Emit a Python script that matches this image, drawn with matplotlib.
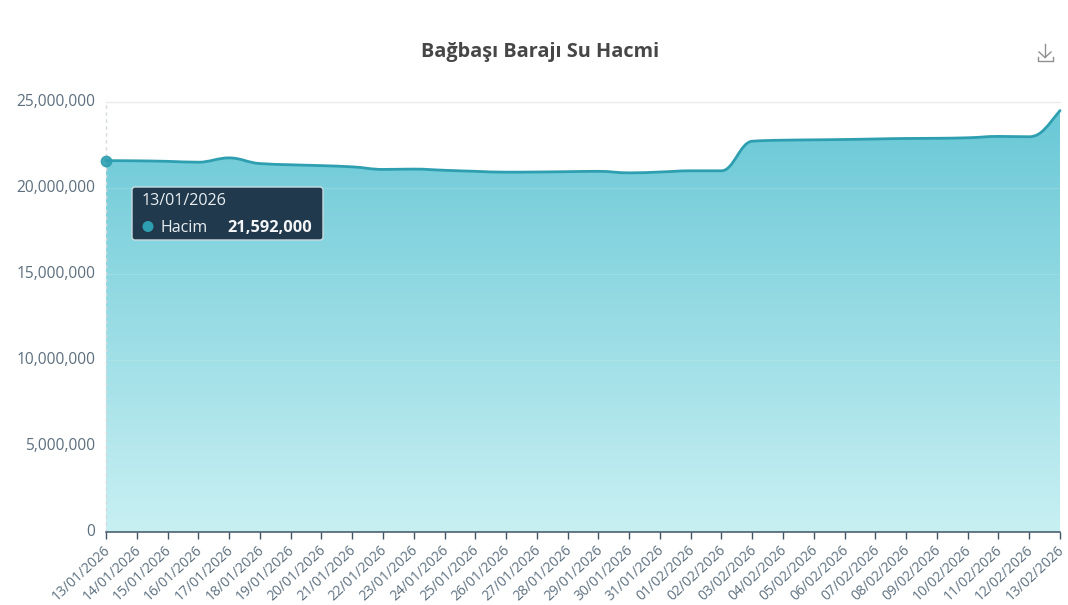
import numpy as np
import matplotlib
matplotlib.use("Agg")
import matplotlib.pyplot as plt
from matplotlib.path import Path
from matplotlib.patches import PathPatch, FancyBboxPatch, Circle
from matplotlib.lines import Line2D
from matplotlib.colors import LinearSegmentedColormap
from matplotlib.ticker import FuncFormatter
from matplotlib.transforms import ScaledTranslation

dates = ["13/01/2026","14/01/2026","15/01/2026","16/01/2026","17/01/2026","18/01/2026","19/01/2026","20/01/2026",
         "21/01/2026","22/01/2026","23/01/2026","24/01/2026","25/01/2026","26/01/2026","27/01/2026","28/01/2026",
         "29/01/2026","30/01/2026","31/01/2026","01/02/2026","02/02/2026","03/02/2026","04/02/2026","05/02/2026",
         "06/02/2026","07/02/2026","08/02/2026","09/02/2026","10/02/2026","11/02/2026","12/02/2026","13/02/2026"]
volumes = [21592000,21580000,21550000,21500000,21750000,21420000,21350000,21300000,
           21230000,21080000,21100000,21030000,20970000,20920000,20930000,20950000,
           20970000,20880000,20930000,21000000,21000000,22720000,22780000,22800000,
           22820000,22850000,22880000,22890000,22920000,23000000,22980000,24500000]
y_ticks = [0,5000000,10000000,15000000,20000000,25000000]
title = "Bağbaşı Barajı Su Hacmi"
series_name = "Hacim"

plt.rcParams['font.family'] = ['Open Sans','DejaVu Sans']
W,H = 1068,605
fig = plt.figure(figsize=(W/100,H/100),dpi=100,facecolor='white')
L,R,T,B = 106,1060,102,532
ax = fig.add_axes([L/W,1-B/H,(R-L)/W,(B-T)/H])
x = np.arange(len(volumes))
y = np.array(volumes,dtype=float)
ax.set_xlim(0,len(x)-1); ax.set_ylim(0,25000000)

# smooth curve through the data points (Bezier segments, flat tangent at local extrema)
def tangents(x,y):
    m = np.zeros_like(y)
    for i in range(1,len(y)-1):
        a,b = y[i]-y[i-1], y[i+1]-y[i]
        if a*b>0:
            m[i] = 2*a*b/(a+b)
    m[0] = (y[1]-y[0]); m[-1] = (y[-1]-y[-2])*1.4
    return m
m = tangents(x,y)
verts=[(x[0],y[0])]; codes=[Path.MOVETO]
for i in range(len(x)-1):
    verts += [(x[i]+0.4,y[i]+m[i]*0.4),(x[i+1]-0.4,y[i+1]-m[i+1]*0.4),(x[i+1],y[i+1])]
    codes += [Path.CURVE4]*3
line_path = Path(verts,codes)
area_path = Path(verts+[(x[-1],0),(x[0],0),(x[0],y[0])],codes+[Path.LINETO,Path.LINETO,Path.LINETO])

cmap = LinearSegmentedColormap.from_list('g',['#c8f0f3','#69c8d6'])
grad = np.linspace(0,1,256).reshape(-1,1)
im = ax.imshow(grad,origin='lower',aspect='auto',cmap=cmap,extent=[x[0],x[-1],0,24500000],zorder=1)
patch = PathPatch(area_path,transform=ax.transData,fc='none',ec='none')
ax.add_patch(patch); im.set_clip_path(patch)
ax.set_xlim(0,len(x)-1); ax.set_ylim(0,25000000)

ax.set_yticks(y_ticks)
ax.yaxis.set_major_formatter(FuncFormatter(lambda v,p:f"{int(v):,}"))
ax.grid(axis='y',color='#e4ecee',lw=0.8,alpha=0.2,zorder=2)
ax.set_axisbelow(False)
ax.add_patch(PathPatch(line_path,transform=ax.transData,fc='none',ec='#2e9fb0',lw=2.0,zorder=4,clip_on=False,capstyle='round'))
for s in ['top','right','left']:
    ax.spines[s].set_visible(False)
ax.spines['bottom'].set_color('#3f5566'); ax.spines['bottom'].set_linewidth(1.1)
ax.spines['bottom'].set_zorder(5)
ax.axhline(25000000,color='#ececec',lw=1,zorder=2,clip_on=False)
ax.axvline(0,color='#d5d9db',lw=1,ls=(0,(2.5,2.5)),zorder=3,clip_on=False)
ax.plot([0],[volumes[0]],'o',ms=7.5,mfc='#2e9fb0',mec='#2e9fb0',alpha=0.9,zorder=6,clip_on=False)

ax.set_xticks(x)
ax.set_xticklabels(dates,rotation=43,ha='right',va='top',rotation_mode='anchor',fontsize=10,color='#5d7080')
ax.tick_params(axis='x',length=5,width=1,color='#3f5566',pad=1)
ax.tick_params(axis='y',length=0,pad=7.5,labelsize=11.2,labelcolor='#5d6f7e')
xoff = ScaledTranslation(-3/100,-2/100,fig.dpi_scale_trans)
for t in ax.get_xticklabels():
    t.set_transform(t.get_transform()+xoff)
yoff = ScaledTranslation(0,1.5/100,fig.dpi_scale_trans)
for t in ax.get_yticklabels():
    t.set_transform(t.get_transform()+yoff)

def fx(px): return px/W
def fy(py): return 1-py/H
fig.text(fx(540),fy(51.5),title,ha='center',va='center',fontsize=14.3,fontweight='bold',color='#464646')

# tooltip
fig.add_artist(FancyBboxPatch((132,H-240),191,53,boxstyle="round,pad=0,rounding_size=3",
    transform=None,fc='#21394d',ec='#c8dce0',lw=1,zorder=10))
fig.text(fx(142),fy(201),dates[0],ha='left',va='center',fontsize=11.6,color='#e9eef1',zorder=11)
fig.add_artist(Circle((148,H-226.5),5.5,transform=None,fc='#2e9fb0',ec='none',zorder=11))
fig.text(fx(160),fy(227.5),series_name,ha='left',va='center',fontsize=11.5,color='#e9eef1',zorder=11)
fig.text(fx(312),fy(227.5),f"{volumes[0]:,}",ha='right',va='center',fontsize=11.8,fontweight='bold',color='#f4f6f7',zorder=11)

# download icon
for xs,ys in [([1045,1045],[44,57]),([1039,1045,1051],[52,57.5,52]),([1037.5,1037.5,1052.5,1052.5],[57,60.5,60.5,57])]:
    fig.add_artist(Line2D([fx(v) for v in xs],[fy(v) for v in ys],color='#8f8f8f',lw=1,transform=fig.transFigure))

fig.savefig('out.png',dpi=100,facecolor='white')
